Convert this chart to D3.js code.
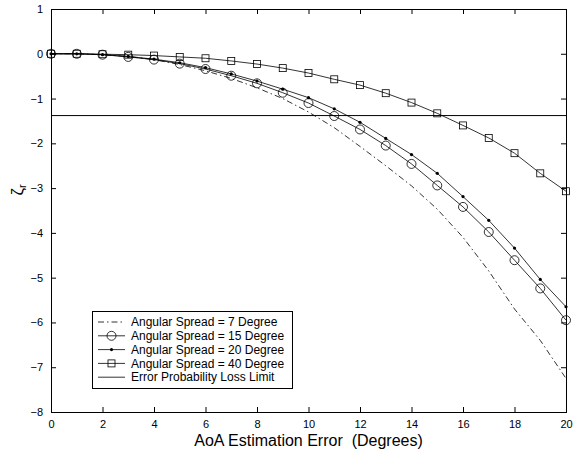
<!DOCTYPE html>
<html>
<head>
<meta charset="utf-8">
<script src="https://cdnjs.cloudflare.com/ajax/libs/d3/7.8.5/d3.min.js"></script>
<style>
    body { margin: 0; background: #fff; }
    text { font-family: "Liberation Sans", Arial, sans-serif; fill: #000; }
</style>
</head>
<body>
<div id="chart"></div>
<script>
// AoA estimation error (degrees)
var errors = [0, 1, 2, 3, 4, 5, 6, 7, 8, 9, 10, 11, 12, 13, 14, 15, 16, 17, 18, 19, 20];

var spread7  = [0, 0, -0.02, -0.06, -0.13, -0.24, -0.38, -0.55, -0.76, -1.0, -1.3, -1.65, -2.07, -2.5, -2.95, -3.47, -4.1, -4.85, -5.7, -6.4, -7.25];
var spread15 = [0, 0, -0.02, -0.07, -0.13, -0.22, -0.34, -0.49, -0.66, -0.87, -1.10, -1.39, -1.69, -2.05, -2.46, -2.94, -3.42, -3.98, -4.61, -5.24, -5.95];
var spread20 = [0, 0, -0.02, -0.06, -0.12, -0.20, -0.31, -0.45, -0.61, -0.79, -0.98, -1.23, -1.53, -1.89, -2.25, -2.67, -3.19, -3.72, -4.34, -5.04, -5.65];
var spread40 = [0, 0, -0.01, -0.02, -0.04, -0.07, -0.10, -0.16, -0.23, -0.32, -0.43, -0.57, -0.70, -0.88, -1.09, -1.33, -1.60, -1.88, -2.22, -2.67, -3.07];
var lossLimit = -1.38;

var xTicks = [0, 2, 4, 6, 8, 10, 12, 14, 16, 18, 20];
var yTicks = [1, 0, -1, -2, -3, -4, -5, -6, -7, -8];

var labels = [
    "Angular Spread = 7 Degree",
    "Angular Spread = 15 Degree",
    "Angular Spread = 20 Degree",
    "Angular Spread = 40 Degree",
    "Error Probability Loss Limit"
];

var width = 574;
var height = 453;
var margin = {top: 9, right: 8, bottom: 41, left: 51};
var chartWidth = width - margin.left - margin.right;
var chartHeight = height - margin.top - margin.bottom;

var series = [
    {name: labels[0], values: spread7, marker: "none", dash: "6,3,1.5,3"},
    {name: labels[1], values: spread15, marker: "circle", dash: null},
    {name: labels[2], values: spread20, marker: "dot", dash: null},
    {name: labels[3], values: spread40, marker: "square", dash: null}
];

var svg = d3.select("#chart").append("svg")
    .attr("width", width)
    .attr("height", height);

var xScale = d3.scaleLinear().domain([0, 20]).range([0, chartWidth]);
var yScale = d3.scaleLinear().domain([-8, 1]).range([chartHeight, 0]);

var overallG = svg.append("g")
    .attr("transform", "translate(" + margin.left + "," + margin.top + ")");

// axes, MATLAB style: ticks inside, box all round
function styleAxis(g) {
    g.select(".domain").remove();
    g.selectAll(".tick line").attr("stroke", "#000").attr("stroke-width", 1);
    g.selectAll("text").style("font-size", "11px");
}

overallG.append("g")
    .attr("transform", "translate(0," + chartHeight + ")")
    .call(d3.axisBottom(xScale).tickValues(xTicks).tickSizeInner(-5).tickPadding(8).tickFormat(d3.format("d")))
    .call(styleAxis);

overallG.append("g")
    .call(d3.axisTop(xScale).tickValues(xTicks).tickSizeInner(-5).tickFormat(""))
    .call(styleAxis);

overallG.append("g")
    .call(d3.axisLeft(yScale).tickValues(yTicks).tickSizeInner(-5).tickPadding(8)
        .tickFormat(function(d){ return d < 0 ? "\u2212" + Math.abs(d) : d; }))
    .call(styleAxis);

overallG.append("g")
    .attr("transform", "translate(" + chartWidth + ",0)")
    .call(d3.axisRight(yScale).tickValues(yTicks).tickSizeInner(-5).tickFormat(""))
    .call(styleAxis);

overallG.append("rect")
    .attr("x", 0.5)
    .attr("y", 0.5)
    .attr("width", chartWidth)
    .attr("height", chartHeight)
    .style("fill", "none")
    .style("stroke", "#000")
    .style("stroke-width", 1);

// loss limit
overallG.append("line")
    .attr("x1", xScale(0))
    .attr("x2", xScale(20))
    .attr("y1", yScale(lossLimit))
    .attr("y2", yScale(lossLimit))
    .style("stroke", "#000")
    .style("stroke-width", 1);

var line = d3.line()
    .x(function(d){ return xScale(d[0]); })
    .y(function(d){ return yScale(d[1]); });

function drawMarker(g, type, x, y) {
    if (type === "circle") {
        g.append("circle").attr("cx", x).attr("cy", y).attr("r", 4.5)
            .style("fill", "none").style("stroke", "#000").style("stroke-width", 0.8);
    } else if (type === "square") {
        g.append("rect").attr("x", x - 3.5).attr("y", y - 3.5).attr("width", 7).attr("height", 7)
            .style("fill", "none").style("stroke", "#000").style("stroke-width", 0.8);
    } else if (type === "dot") {
        g.append("circle").attr("cx", x).attr("cy", y).attr("r", 1.6)
            .style("fill", "#000");
    }
}

series.forEach(function(s){
    var pts = errors.map(function(e, i){ return [e, s.values[i]]; });
    var g = overallG.append("g");
    g.append("path")
        .datum(pts)
        .attr("d", line)
        .style("fill", "none")
        .style("stroke", "#000")
        .style("stroke-width", 0.8)
        .style("stroke-dasharray", s.dash);
    pts.forEach(function(p){
        drawMarker(g, s.marker, xScale(p[0]), yScale(p[1]));
    });
});

// legend
var legend = svg.append("g").attr("transform", "translate(92,311)");
legend.append("rect")
    .attr("x", 0.5).attr("y", 0.5)
    .attr("width", 200).attr("height", 77)
    .style("fill", "#fff").style("stroke", "#000").style("stroke-width", 1);

var legendItems = series.concat([{name: labels[4], marker: "none", dash: null}]);
legendItems.forEach(function(s, i){
    var y = 11 + i * 13.8;
    legend.append("line")
        .attr("x1", 6).attr("x2", 33)
        .attr("y1", y).attr("y2", y)
        .style("stroke", "#000").style("stroke-width", 0.8)
        .style("stroke-dasharray", s.dash);
    drawMarker(legend, s.marker, 19.5, y);
    legend.append("text")
        .attr("x", 39).attr("y", y)
        .attr("dy", "0.35em")
        .style("font-size", "12px")
        .text(s.name);
});

// titles
svg.append("text")
    .attr("x", margin.left + chartWidth / 2)
    .attr("y", 446)
    .attr("text-anchor", "middle")
    .style("font-size", "16px")
    .style("white-space", "pre")
    .text("AoA Estimation Error  (Degrees)");

var yl = svg.append("text")
    .attr("transform", "translate(23,190) rotate(-90)")
    .attr("text-anchor", "middle")
    .style("font-size", "17px");
yl.append("tspan").text("\u03b6");
yl.append("tspan").attr("dy", 3).style("font-size", "11px").text("r");
</script>
</body>
</html>
